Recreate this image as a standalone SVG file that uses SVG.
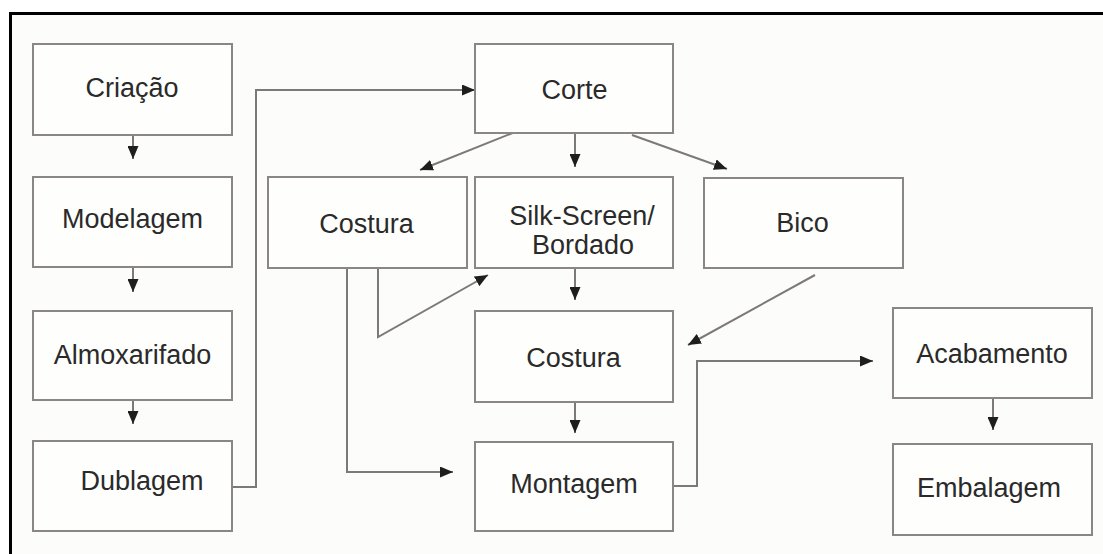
<svg xmlns="http://www.w3.org/2000/svg" width="1103" height="554" viewBox="0 0 1103 554">
  <defs>
    <marker id="arrow" markerUnits="userSpaceOnUse" markerWidth="13" markerHeight="11" refX="13" refY="5.5" orient="auto">
      <path d="M0,0 L13,5.5 L0,11 z" fill="#1e1e1e"/>
    </marker>
  </defs>
  <style>
    .box { fill: #fefefd; stroke: #8a8683; stroke-width: 2; }
    .lbl { font-family: "Liberation Sans", Arial, sans-serif; font-size: 27px; fill: #2a2a2a; text-anchor: middle; }
    .con { fill: none; stroke: #7d7977; stroke-width: 2; marker-end: url(#arrow); }
    .frame { stroke: #000; stroke-width: 3; fill: none; }
  </style>

  <rect x="0" y="0" width="1103" height="554" fill="#ffffff"/>
  <rect x="11" y="14" width="1092" height="540" fill="#fcfcfa"/>

  <!-- outer frame: top and left edges -->
  <g id="frame">
    <line class="frame" x1="9" y1="13.5" x2="1103" y2="13.5"/>
    <line class="frame" x1="10.5" y1="12" x2="10.5" y2="554"/>
  </g>

  <!-- connectors -->
  <g id="connectors">
    <path class="con" d="M133,135 V159"/>
    <path class="con" d="M133,267 V292"/>
    <path class="con" d="M133,400 V424"/>
    <path class="con" d="M232,487 H256 V90 H475"/>
    <path class="con" d="M515,132 L420,170"/>
    <path class="con" d="M575,133 V167"/>
    <path class="con" d="M632,135 L727,169"/>
    <path class="con" d="M378,268 V337 L488,275"/>
    <path class="con" d="M575,268 V300"/>
    <path class="con" d="M815,275 L688,345"/>
    <path class="con" d="M347,268 V472 H453"/>
    <path class="con" d="M575,402 V433"/>
    <path class="con" d="M673,486 H697 V361 H873"/>
    <path class="con" d="M993,398 V430"/>
  </g>

  <g id="criacao">
    <rect class="box" x="33" y="44" width="199" height="91"/>
    <text class="lbl" x="132" y="97">Criação</text>
  </g>
  <g id="modelagem">
    <rect class="box" x="33" y="177" width="199" height="90"/>
    <text class="lbl" x="132.5" y="228">Modelagem</text>
  </g>
  <g id="almoxarifado">
    <rect class="box" x="33" y="311" width="199" height="89"/>
    <text class="lbl" x="132.5" y="364">Almoxarifado</text>
  </g>
  <g id="dublagem">
    <rect class="box" x="33" y="441" width="199" height="90"/>
    <text class="lbl" x="142" y="490">Dublagem</text>
  </g>
  <g id="corte">
    <rect class="box" x="475" y="44" width="198" height="89"/>
    <text class="lbl" x="574.5" y="99">Corte</text>
  </g>
  <g id="costura-1">
    <rect class="box" x="268" y="177" width="199" height="91"/>
    <text class="lbl" x="366.5" y="233">Costura</text>
  </g>
  <g id="silk-screen">
    <rect class="box" x="475" y="177" width="198" height="91"/>
    <text class="lbl" x="582" y="225">Silk-Screen/</text>
    <text class="lbl" x="583" y="254">Bordado</text>
  </g>
  <g id="bico">
    <rect class="box" x="704" y="178" width="199" height="90"/>
    <text class="lbl" x="802.5" y="232">Bico</text>
  </g>
  <g id="costura-2">
    <rect class="box" x="475" y="311" width="198" height="91"/>
    <text class="lbl" x="573.5" y="367">Costura</text>
  </g>
  <g id="montagem">
    <rect class="box" x="475" y="442" width="198" height="89"/>
    <text class="lbl" x="574" y="493">Montagem</text>
  </g>
  <g id="acabamento">
    <rect class="box" x="893" y="308" width="199" height="90"/>
    <text class="lbl" x="992" y="363">Acabamento</text>
  </g>
  <g id="embalagem">
    <rect class="box" x="893" y="444" width="199" height="91"/>
    <text class="lbl" x="989" y="497">Embalagem</text>
  </g>
</svg>
